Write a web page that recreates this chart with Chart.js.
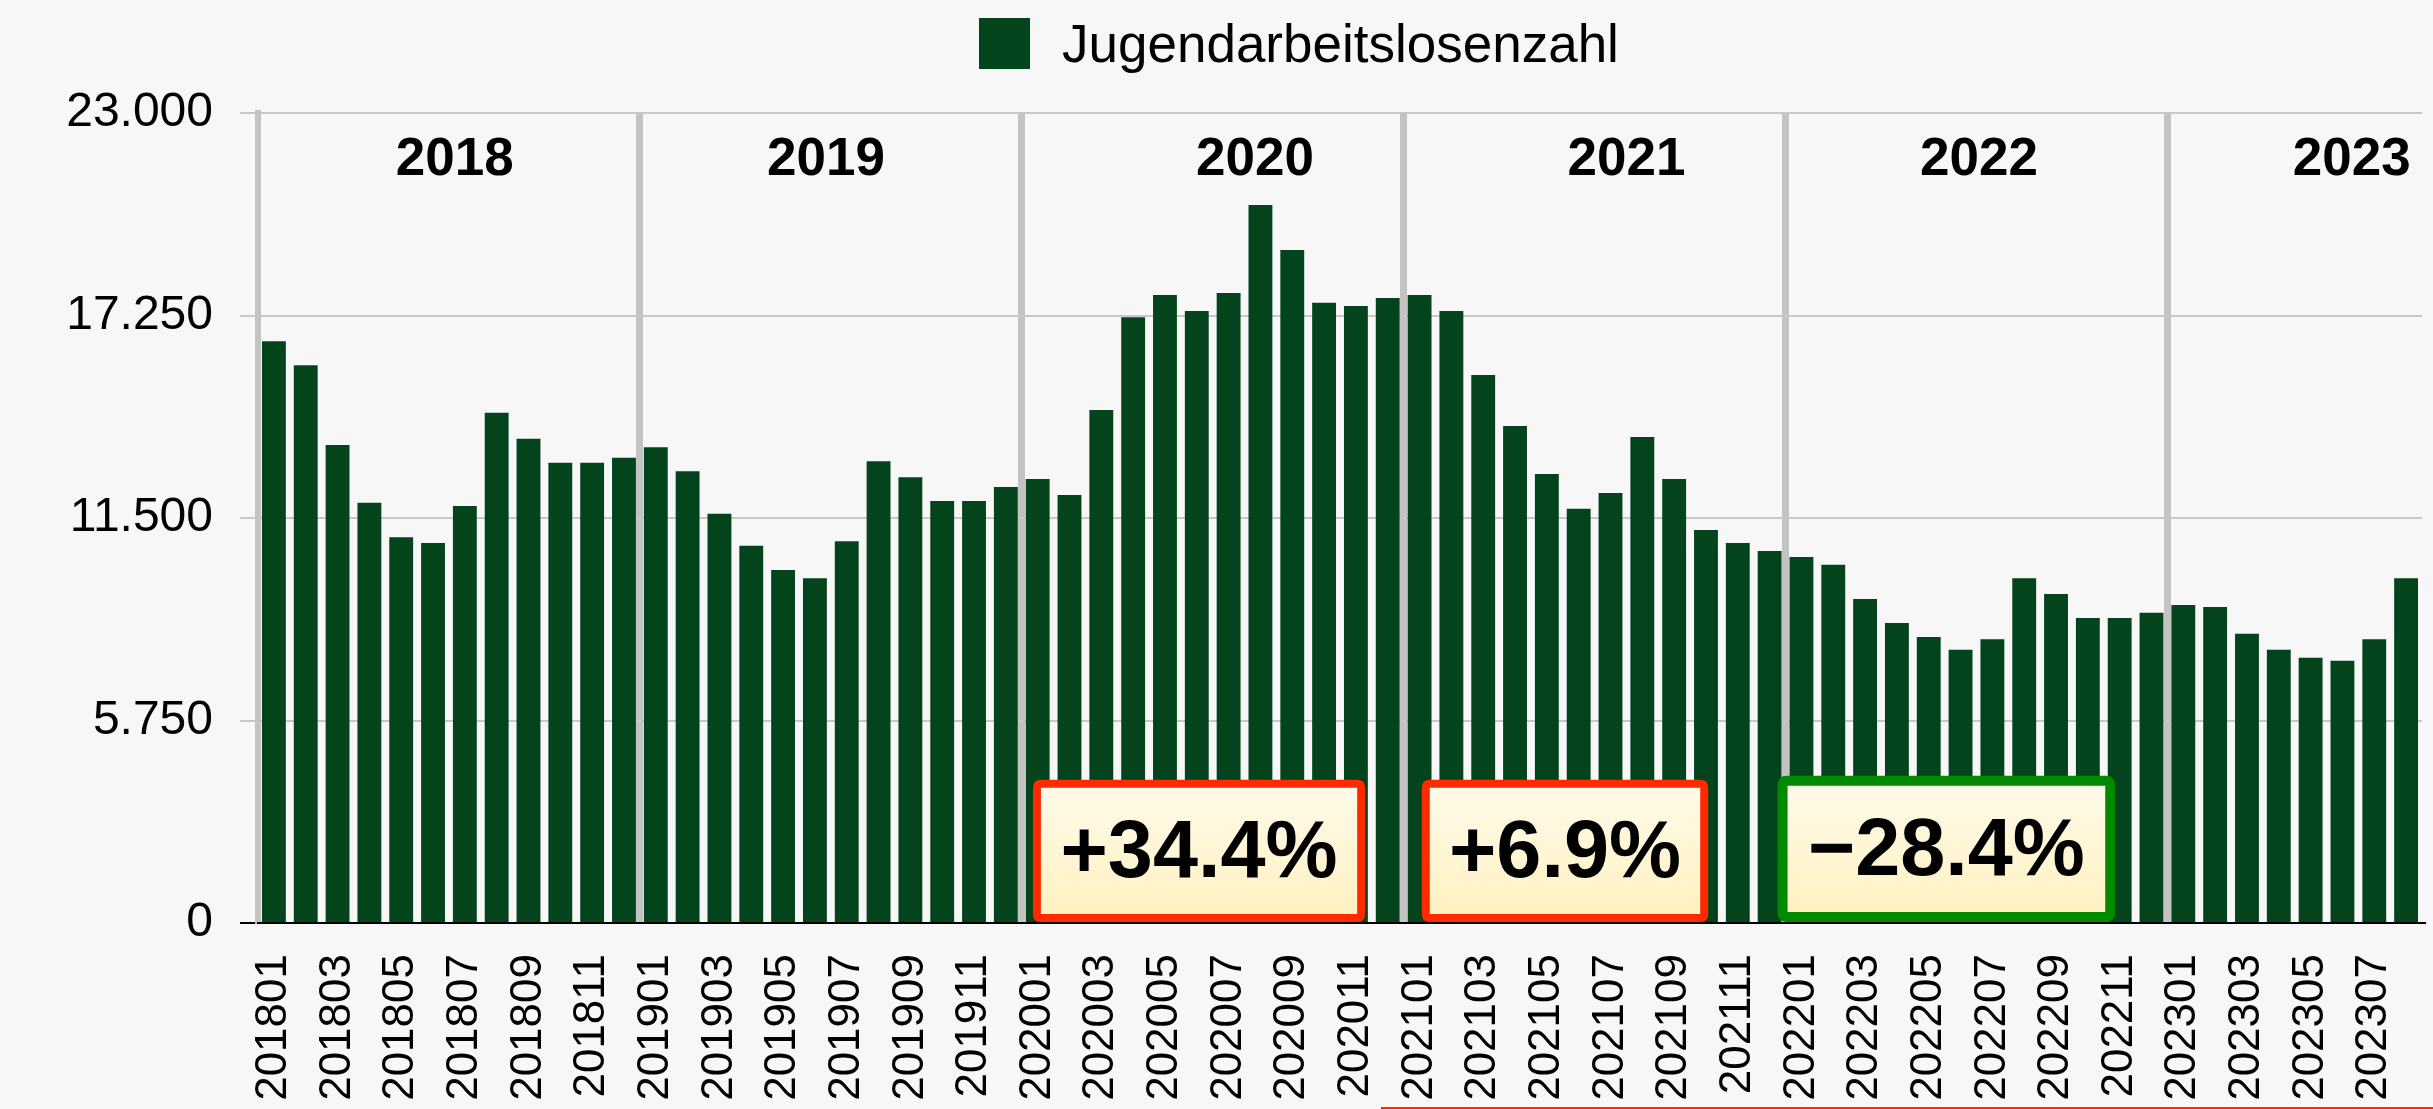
<!DOCTYPE html>
<html lang="de">
<head>
<meta charset="utf-8">
<title>Jugendarbeitslosenzahl</title>
<script src="https://cdn.jsdelivr.net/npm/chart.js@4.4.1/dist/chart.umd.min.js"></script>
<style>
  html, body { margin: 0; padding: 0; background: #f7f7f7; }
  body { width: 2433px; height: 1109px; position: relative; overflow: hidden;
         font-family: "Liberation Sans", Arial, Helvetica, sans-serif; }
  #chartLegend { position: absolute; top: 18px; left: 979px; display: flex; align-items: center; }
  #chartLegend .swatch { width: 51px; height: 51px; flex-shrink: 0; }
  #chartLegend .label { margin-left: 32px; font-size: 53px; line-height: 51px; color: #000; }
  #bottomRule { position: absolute; left: 1381px; top: 1107px; width: 1052px; height: 2px; background: #ff2a00; }
  canvas { position: absolute; left: 0; top: 0; }
</style>
</head>
<body>
<div id="chartLegend"></div>
<canvas id="mainChart" width="2433" height="1109"></canvas>
<div id="bottomRule"></div>

<script>
const SERIES_LABEL = "Jugendarbeitslosenzahl";
const BAR_COLOR = "#03441c";

const MONTHS = [
  "201801","201802","201803","201804","201805","201806","201807","201808","201809","201810","201811","201812",
  "201901","201902","201903","201904","201905","201906","201907","201908","201909","201910","201911","201912",
  "202001","202002","202003","202004","202005","202006","202007","202008","202009","202010","202011","202012",
  "202101","202102","202103","202104","202105","202106","202107","202108","202109","202110","202111","202112",
  "202201","202202","202203","202204","202205","202206","202207","202208","202209","202210","202211","202212",
  "202301","202302","202303","202304","202305","202306","202307","202308"
];

const VALUES = [
  16520, 15840, 13570, 11930, 10950, 10790, 11840, 14490, 13750, 13070, 13070, 13210,
  13510, 12830, 11620, 10710, 10020,  9790, 10840, 13110, 12660, 11980, 11980, 12380,
  12610, 12150, 14570, 17200, 17830, 17380, 17890, 20390, 19110, 17610, 17520, 17750,
  17830, 17380, 15560, 14110, 12750, 11760, 12210, 13800, 12610, 11160, 10790, 10560,
  10390, 10170,  9200,  8520,  8120,  7760,  8060,  9790,  9340,  8660,  8660,  8810,
   9030,  8970,  8210,  7760,  7530,  7450,  8060,  9790
];

const Y_TICKS = [0, 5750, 11500, 17250, 23000];

// year captions, anchored in category units (month index)
const YEARS = ["2018", "2019", "2020", "2021", "2022", "2023"];
const YEAR_ANCHOR = [6.18, 17.85, 31.33, 43.0, 54.08, 65.79];
const YEAR_LEVEL = 21650;

// change boxes: text, month span, colour of frame
const CHANGE_TEXT = ["+34.4%", "+6.9%", "\u221228.4%"];
const CHANGE_FROM = [24.35, 36.57, 47.75];
const CHANGE_TO = [34.79, 45.57, 58.36];
const CHANGE_TOP = [4070, 4070, 4180];
const CHANGE_FRAME = ["#ff2a00", "#ff2a00", "#008a00"];
const CHANGE_FRAME_W = [8, 8, 10];

const FONT = '"Liberation Sans", Arial, Helvetica, sans-serif';

function fmtDE(v){
  return String(v).replace(/\B(?=(\d{3})+(?!\d))/g, ".");
}

function RENDER_LEGEND(){
  const box = document.getElementById("chartLegend");
  box.innerHTML = `
    <div class="swatch" style="background:${BAR_COLOR}"></div>
    <div class="label">${SERIES_LABEL}</div>
  `;
}

function roundRect(ctx, x, y, w, h, r){
  ctx.beginPath();
  ctx.moveTo(x + r, y);
  ctx.lineTo(x + w - r, y);
  ctx.quadraticCurveTo(x + w, y, x + w, y + r);
  ctx.lineTo(x + w, y + h - r);
  ctx.quadraticCurveTo(x + w, y + h, x + w - r, y + h);
  ctx.lineTo(x + r, y + h);
  ctx.quadraticCurveTo(x, y + h, x, y + h - r);
  ctx.lineTo(x, y + r);
  ctx.quadraticCurveTo(x, y, x + r, y);
  ctx.closePath();
}

const overlayPlugin = {
  id: "overlay",
  afterDatasetsDraw(chart){
    const ctx = chart.ctx;
    const xs = chart.scales.x;
    const ys = chart.scales.y;
    const step = (xs.getPixelForValue(1) - xs.getPixelForValue(0));
    const edge = i => xs.getPixelForValue(0) - step / 2 + i * step;

    ctx.save();
    // year captions
    ctx.fillStyle = "#000";
    ctx.font = `bold 53px ${FONT}`;
    ctx.textAlign = "center";
    ctx.textBaseline = "middle";
    const yCap = ys.getPixelForValue(YEAR_LEVEL);
    YEARS.forEach((y, i) => {
      ctx.fillText(y, edge(YEAR_ANCHOR[i]), yCap);
    });

    // change boxes
    CHANGE_TEXT.forEach((t, i) => {
      const lw = CHANGE_FRAME_W[i];
      const x0 = edge(CHANGE_FROM[i]);
      const x1 = edge(CHANGE_TO[i]);
      const y0 = ys.getPixelForValue(CHANGE_TOP[i]);
      const y1 = ys.getPixelForValue(0) - 1;
      const g = ctx.createLinearGradient(0, y0, 0, y1);
      g.addColorStop(0, "#fffbec");
      g.addColorStop(1, "#fff1bf");
      roundRect(ctx, x0 + lw / 2, y0 + lw / 2, x1 - x0 - lw, y1 - y0 - lw, 4);
      ctx.fillStyle = g;
      ctx.fill();
      ctx.lineWidth = lw;
      ctx.strokeStyle = CHANGE_FRAME[i];
      ctx.stroke();

      ctx.fillStyle = "#000";
      ctx.font = `bold 81px ${FONT}`;
      ctx.textAlign = "center";
      ctx.textBaseline = "middle";
      ctx.fillText(t, (x0 + x1) / 2, (y0 + y1) / 2 + 4);
    });
    ctx.restore();
  }
};

let CHART_INSTANCE = null;

function RENDER_CHART(){
  const el = document.getElementById("mainChart");
  if(!el) return;
  if(CHART_INSTANCE) CHART_INSTANCE.destroy();

  CHART_INSTANCE = new Chart(el, {
    type: "bar",
    data: {
      labels: MONTHS,
      datasets: [{
        label: SERIES_LABEL,
        data: VALUES,
        backgroundColor: BAR_COLOR,
        borderWidth: 0,
        categoryPercentage: 1,
        barPercentage: 0.75
      }]
    },
    options: {
      responsive: false,
      animation: false,
      devicePixelRatio: 1,
      layout: { padding: { top: 113, left: 0, right: 11, bottom: 0 } },
      plugins: {
        legend: { display: false },
        tooltip: { enabled: false }
      },
      scales: {
        x: {
          offset: true,
          afterFit: s => { s.height = 186; s.paddingLeft = 0; s.paddingRight = 0; },
          grid: {
            offset: true,
            drawTicks: false,
            lineWidth: 7,
            color: c => (c.index > 0 && c.index < MONTHS.length && c.index % 12 === 0) ? "#c3c3c3" : "rgba(0,0,0,0)"
          },
          border: { display: true, color: "#000", width: 2, z: 1 },
          ticks: {
            autoSkip: false,
            maxRotation: 90,
            minRotation: 90,
            padding: 31,
            color: "#000",
            font: { family: FONT, size: 44 },
            callback: (v, i) => (i % 2 === 0 ? MONTHS[i] : "")
          }
        },
        y: {
          min: 0,
          max: 23000,
          afterFit: s => { s.width = 258; },
          afterBuildTicks: s => { s.ticks = Y_TICKS.map(v => ({ value: v })); },
          grid: {
            lineWidth: 2,
            tickLength: 18,
            color: c => (c.tick && c.tick.value === 0) ? "#000" : "#c8c8c8"
          },
          border: { display: true, color: "#c3c3c3", width: 6 },
          ticks: {
            padding: 27,
            color: "#000",
            font: { family: FONT, size: 48 },
            callback: v => fmtDE(v)
          }
        }
      }
    },
    plugins: [overlayPlugin]
  });
}

RENDER_LEGEND();
RENDER_CHART();
</script>
</body>
</html>
